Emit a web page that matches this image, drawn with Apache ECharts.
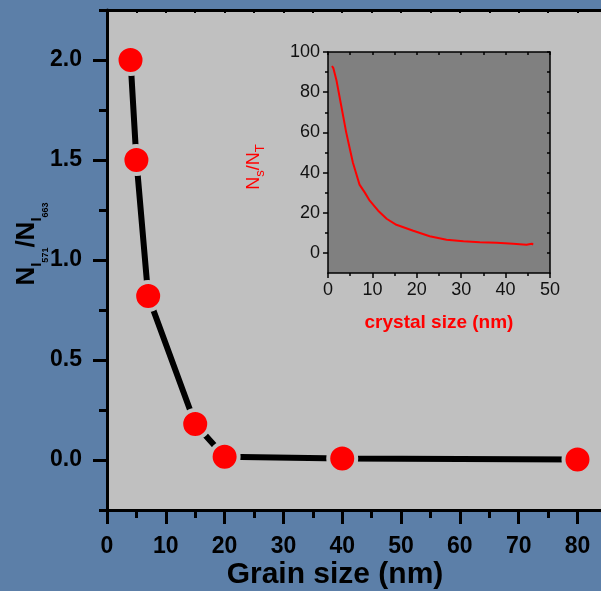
<!DOCTYPE html>
<html>
<head>
<meta charset="utf-8">
<script src="https://cdn.jsdelivr.net/npm/echarts@6/dist/echarts.min.js"></script>
<style>
  html, body { margin: 0; padding: 0; background: #5c7fa8; }
  #chart { width: 601px; height: 591px; }
</style>
</head>
<body>
<div id="chart"></div>
<script>
// Main plot: intensity ratio vs. grain size
const grainSize = [4, 5, 7, 15, 20, 40, 80];
const intensityRatio = [2.0, 1.5, 0.82, 0.18, 0.016, 0.008, 0.003];
const mainXTicks = [0, 10, 20, 30, 40, 50, 60, 70, 80];
const mainXMinorTicks = [5, 15, 25, 35, 45, 55, 65, 75];
const mainXTopTicks = [5, 10, 15, 20, 25, 30, 35, 40, 45, 50, 55, 60, 65, 70, 75, 80];
const mainYTicks = [0, 0.5, 1.0, 1.5, 2.0];
const mainYMinorTicks = [-0.25, 0.25, 0.75, 1.25, 1.75, 2.25];

// Inset: surface-to-total atom fraction vs. crystal size
const crystalSize = [0.9, 1.2, 1.9, 3.0, 4.1, 4.9, 5.6, 7.1, 8.3, 9.4, 11.3, 13.2, 15.4,
  19.2, 22.9, 26.7, 30.5, 34.2, 38.0, 41.7, 44.7, 45.9, 46.2];
const surfaceFraction = [93, 92, 86, 73, 60, 52, 45, 34, 30, 26, 21, 17, 14,
  11, 8.3, 6.6, 5.8, 5.3, 5.0, 4.5, 4.1, 4.6, 4.1];
const insetXTicks = [0, 10, 20, 30, 40, 50];
const insetYTicks = [0, 20, 40, 60, 80, 100];
const insetYMinorTicks = [10, 30, 50, 70, 90];
const insetYRightTicks = [0, 10, 20, 30, 40, 50, 60, 70, 80, 90, 100];

const FONT = '"Liberation Sans", Arial, sans-serif';
const chart = echarts.init(document.getElementById('chart'), null, { renderer: 'canvas' });

const hiddenLabel = { show: false };
const noLine = { show: false, onZero: false };

chart.setOption({
  animation: false,
  backgroundColor: '#5c7fa8',
  grid: [
    { left: 107, top: 10, right: 0, height: 500, show: true, backgroundColor: '#c0c0c0', borderWidth: 0, containLabel: false },
    { left: 328, top: 52, width: 222, height: 221, show: true, backgroundColor: '#808080', borderWidth: 0, containLabel: false }
  ],
  xAxis: [
    { gridIndex: 0, type: 'value', position: 'bottom', min: 0, max: 84,
      axisLine: { show: true, onZero: false, lineStyle: { color: '#000', width: 3 } },
      axisTick: { show: true, customValues: mainXTicks, length: 14, lineStyle: { color: '#000', width: 3 } },
      axisLabel: { show: true, customValues: mainXTicks, margin: 25, color: '#000', fontFamily: FONT, fontWeight: 'bold', fontSize: 23 },
      splitLine: { show: false } },
    { gridIndex: 0, type: 'value', position: 'bottom', min: 0, max: 84,
      axisLine: noLine,
      axisTick: { show: true, customValues: mainXMinorTicks, length: 8, lineStyle: { color: '#000', width: 3 } },
      axisLabel: hiddenLabel, splitLine: { show: false } },
    { gridIndex: 0, type: 'value', position: 'top', min: 0, max: 84,
      axisLine: { show: true, onZero: false, lineStyle: { color: '#000', width: 3 } },
      axisTick: { show: true, inside: true, customValues: mainXTopTicks, length: 3, lineStyle: { color: '#000', width: 2 } },
      axisLabel: hiddenLabel, splitLine: { show: false } },
    { gridIndex: 1, type: 'value', position: 'bottom', min: 0, max: 50, interval: 10,
      name: 'crystal size (nm)', nameLocation: 'middle', nameGap: 40,
      nameTextStyle: { color: '#ff0000', fontFamily: FONT, fontWeight: 'bold', fontSize: 19 },
      axisLine: { show: true, onZero: false, lineStyle: { color: '#000', width: 1.5 } },
      axisTick: { show: true, length: 5, lineStyle: { color: '#000', width: 1.5 } },
      minorTick: { show: true, splitNumber: 2, length: 3, lineStyle: { color: '#000', width: 1.5 } },
      axisLabel: { show: true, customValues: insetXTicks, margin: 8, color: '#111', fontFamily: FONT, fontSize: 18 },
      splitLine: { show: false }, minorSplitLine: { show: false } },
    { gridIndex: 1, type: 'value', position: 'top', min: 0, max: 50, interval: 5,
      axisLine: { show: true, onZero: false, lineStyle: { color: '#000', width: 1.5 } },
      axisTick: { show: true, inside: true, length: 3, lineStyle: { color: '#000', width: 1.5 } },
      axisLabel: hiddenLabel, splitLine: { show: false } }
  ],
  yAxis: [
    { gridIndex: 0, type: 'value', position: 'left', min: -0.25, max: 2.25,
      axisLine: { show: true, onZero: false, lineStyle: { color: '#000', width: 3 } },
      axisTick: { show: true, customValues: mainYTicks, length: 14, lineStyle: { color: '#000', width: 3 } },
      axisLabel: { show: true, customValues: mainYTicks, margin: 25, color: '#000', fontFamily: FONT, fontWeight: 'bold', fontSize: 23,
        formatter: v => v.toFixed(1) },
      splitLine: { show: false } },
    { gridIndex: 0, type: 'value', position: 'left', min: -0.25, max: 2.25,
      axisLine: noLine,
      axisTick: { show: true, customValues: mainYMinorTicks, length: 8, lineStyle: { color: '#000', width: 3 } },
      axisLabel: hiddenLabel, splitLine: { show: false } },
    { gridIndex: 1, type: 'value', position: 'left', min: -10, max: 100,
      axisLine: { show: true, onZero: false, lineStyle: { color: '#000', width: 1.5 } },
      axisTick: { show: true, customValues: insetYTicks, length: 5, lineStyle: { color: '#000', width: 1.5 } },
      axisLabel: { show: true, customValues: insetYTicks, margin: 8, color: '#111', fontFamily: FONT, fontSize: 18 },
      splitLine: { show: false } },
    { gridIndex: 1, type: 'value', position: 'left', min: -10, max: 100,
      axisLine: noLine,
      axisTick: { show: true, customValues: insetYMinorTicks, length: 3, lineStyle: { color: '#000', width: 1.5 } },
      axisLabel: hiddenLabel, splitLine: { show: false } },
    { gridIndex: 1, type: 'value', position: 'right', min: -10, max: 100,
      axisLine: { show: true, onZero: false, lineStyle: { color: '#000', width: 1.5 } },
      axisTick: { show: true, inside: true, customValues: insetYRightTicks, length: 3, lineStyle: { color: '#000', width: 1.5 } },
      axisLabel: hiddenLabel, splitLine: { show: false } }
  ],
  graphic: [
    { type: 'text', x: 27, y: 244, rotation: Math.PI / 2, z: 10,
      style: {
        text: '{n|N}{s|I}{t|571}{n|/N}{s|I}{t|663}',
        align: 'center', verticalAlign: 'middle',
        rich: {
          n: { fontFamily: FONT, fontWeight: 'bold', fontSize: 26, lineHeight: 46, verticalAlign: 'middle', fill: '#000' },
          s: { fontFamily: FONT, fontWeight: 'bold', fontSize: 15, lineHeight: 15, verticalAlign: 'bottom', padding: [0, 0, 6, 0], fill: '#000' },
          t: { fontFamily: FONT, fontWeight: 'bold', fontSize: 9, lineHeight: 9, verticalAlign: 'bottom', fill: '#000' }
        }
      } },
    { type: 'text', x: 335, y: 575, z: 10,
      style: { text: 'Grain size (nm)', align: 'center', verticalAlign: 'middle',
        fontFamily: FONT, fontWeight: 'bold', fontSize: 30, fill: '#000' } },
    { type: 'text', x: 254, y: 167, rotation: Math.PI / 2, z: 10,
      style: {
        text: '{a|N}{b|s}{a|/N}{b|T}',
        align: 'center', verticalAlign: 'middle',
        rich: {
          a: { fontFamily: FONT, fontSize: 18, lineHeight: 26, verticalAlign: 'middle', fill: '#ff0000' },
          b: { fontFamily: FONT, fontSize: 13, lineHeight: 13, verticalAlign: 'bottom', fill: '#ff0000' }
        }
      } }
  ],
  series: [
    { type: 'line', xAxisIndex: 0, yAxisIndex: 0,
      data: grainSize.map((g, i) => [g, intensityRatio[i]]),
      symbol: 'circle', symbolSize: 28,
      itemStyle: { color: '#ff0000', borderColor: '#c0c0c0', borderWidth: 4 },
      lineStyle: { color: '#000', width: 6, cap: 'round' },
      emphasis: { disabled: true } },
    { type: 'line', xAxisIndex: 3, yAxisIndex: 2,
      data: crystalSize.map((c, i) => [c, surfaceFraction[i]]),
      showSymbol: false, symbol: 'none',
      lineStyle: { color: '#ff0000', width: 2 },
      emphasis: { disabled: true } }
  ]
});
</script>
</body>
</html>
